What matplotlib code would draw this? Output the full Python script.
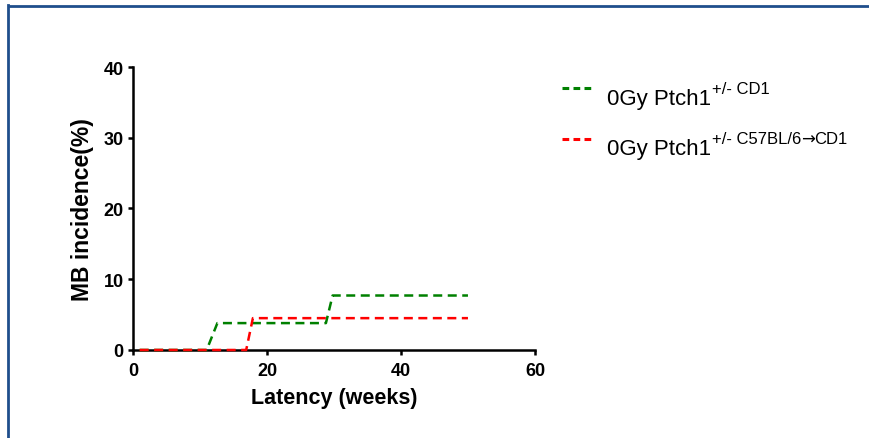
import matplotlib
matplotlib.use("Agg")
import matplotlib.pyplot as plt
from matplotlib.lines import Line2D

plt.rcParams['font.family'] = ['Liberation Sans', 'DejaVu Sans']

# cumulative incidence curves (weeks, %)
cd1_weeks = [1, 11, 12.6, 28.8, 29.8, 50]
cd1_incidence = [0, 0, 3.8, 3.8, 7.7, 7.7]
b6_weeks = [1, 16.9, 17.9, 50]
b6_incidence = [0, 0, 4.5, 4.5]

series_names = ['0Gy Ptch1', '0Gy Ptch1']
# superscript pieces; the arrow comes from DejaVu Sans
series_sup = [['+/- CD1'], ['+/- C57BL/6', '\u2192', 'CD1']]
series_colors = ['#008000', '#ff0000']

x_ticks = [0, 20, 40, 60]
y_ticks = [0, 10, 20, 30, 40]

W, H = 869, 439
fig = plt.figure(figsize=(W / 100, H / 100), dpi=100)
ax = fig.add_axes([0.153, 0.2005, 0.4626, 0.6446])

dash = (0, (3.6, 2.2))
ax.plot(cd1_weeks, cd1_incidence, color=series_colors[0], lw=1.8,
        linestyle=dash, clip_on=False, zorder=5)
ax.plot(b6_weeks, b6_incidence, color=series_colors[1], lw=1.8,
        linestyle=dash, clip_on=False, zorder=6)

ax.set_xlim(0, 60)
ax.set_ylim(0, 40)
ax.set_xticks(x_ticks)
ax.set_yticks(y_ticks)

for side in ['top', 'right']:
    ax.spines[side].set_visible(False)
for side in ['left', 'bottom']:
    ax.spines[side].set_linewidth(1.8)
ax.tick_params(direction='out', length=3.6, width=1.8, labelsize=13)
ax.tick_params(axis='x', pad=5)
ax.tick_params(axis='y', pad=3)
for lbl in ax.get_xticklabels() + ax.get_yticklabels():
    lbl.set_fontweight('bold')

ax.set_xlabel('Latency (weeks)', fontsize=15.5, fontweight='bold', labelpad=6)
ax.set_ylabel('MB incidence(%)', fontsize=16.5, fontweight='bold', labelpad=7)

# legend: dashed key, name, raised genotype text
fig.canvas.draw()
renderer = fig.canvas.get_renderer()
for i, (name, sup, col) in enumerate(zip(series_names, series_sup, series_colors)):
    key_y = 1 - (88.5 + 51 * i) / H
    base_y = 1 - (104.5 + 51 * i) / H
    fig.add_artist(Line2D([562 / W, 592 / W], [key_y, key_y], color=col,
                          lw=2.2, linestyle=(0, (2.2, 1.4)),
                          transform=fig.transFigure))
    t = fig.text(607 / W, base_y, name, fontsize=16, va='baseline')
    x = t.get_window_extent(renderer).x1 + 1
    for part in sup:
        fam = ['DejaVu Sans'] if part == '\u2192' else ['Liberation Sans']
        s = fig.text(x / W, base_y + 11 / H, part, fontsize=12,
                     va='baseline', family=fam)
        x = s.get_window_extent(renderer).x1
        if part == '\u2192':
            x -= 1

# blue frame along top and left edges
frame = '#1f4e8c'
fig.add_artist(Line2D([9.0 / W, 1.0], [1 - 7.0 / H] * 2, color=frame,
                      lw=2, transform=fig.transFigure))
fig.add_artist(Line2D([8.0 / W] * 2, [0, 1 - 6.0 / H], color=frame,
                      lw=2, transform=fig.transFigure))

fig.savefig('out.png', dpi=100)
